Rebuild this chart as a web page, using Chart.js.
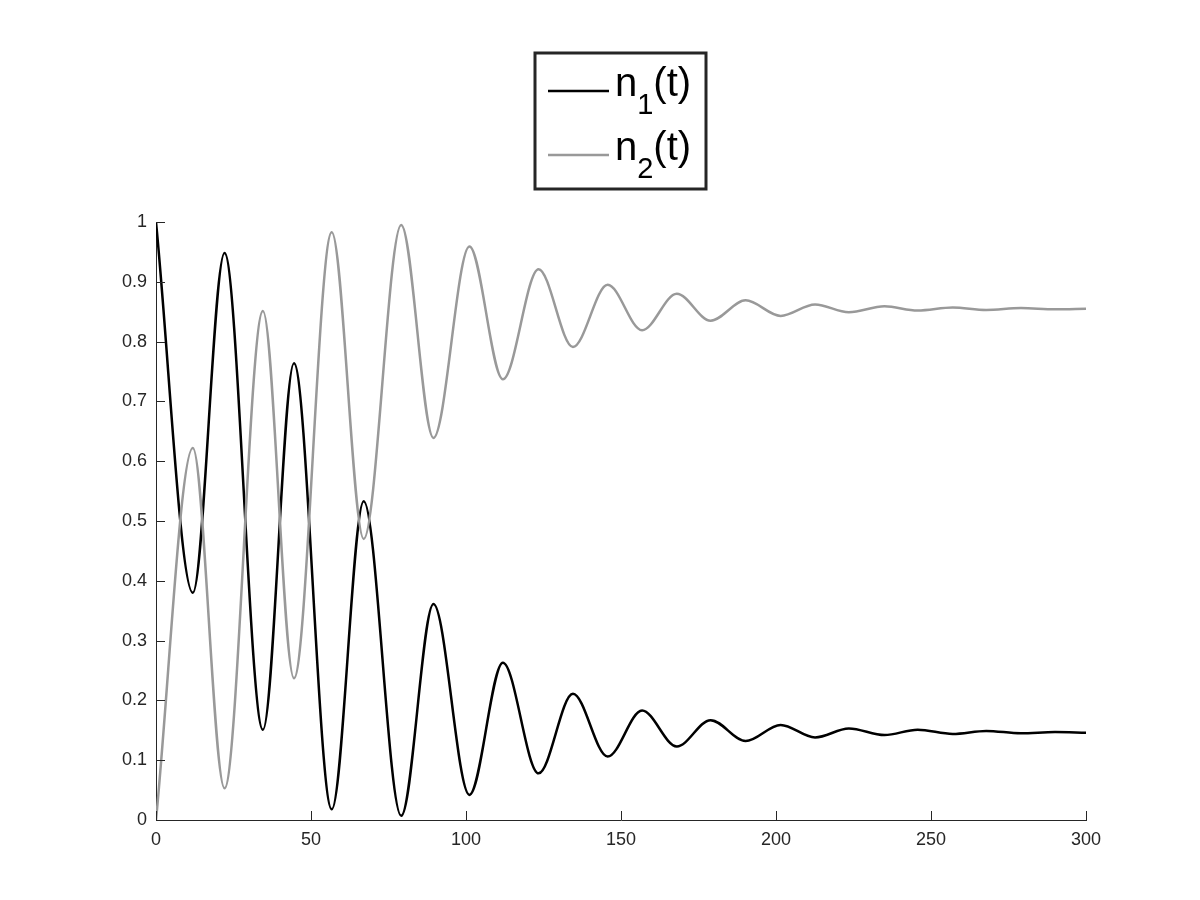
<!DOCTYPE html>
<html>
<head>
<meta charset="utf-8">
<script src="https://cdn.jsdelivr.net/npm/chart.js@4"></script>
<style>
  html, body { margin: 0; padding: 0; background: #fff; }
  canvas { display: block; }
</style>
</head>
<body>
<canvas id="popChart" width="1200" height="900"></canvas>
<script>
// turning points (t, value)
var times = [0, 11.9, 22.1, 34.5, 44.5, 56.7, 67.0, 79.1, 89.5, 101.1, 111.9, 123.4, 134.5, 145.7,
    156.8, 168, 178.9, 190.2, 201.5, 212.6, 223.5, 235, 245.7, 257, 267.8, 279, 290, 300]
var n1 = [1, 0.380, 0.948, 0.151, 0.764, 0.018, 0.533, 0.007, 0.361, 0.042, 0.263, 0.078, 0.211, 0.106,
    0.183, 0.123, 0.167, 0.132, 0.159, 0.138, 0.153, 0.142, 0.151, 0.144, 0.149, 0.145, 0.147, 0.146]
var n2 = [0, 0.622, 0.053, 0.851, 0.237, 0.983, 0.470, 0.995, 0.639, 0.959, 0.737, 0.921, 0.791, 0.895,
    0.819, 0.880, 0.835, 0.869, 0.843, 0.862, 0.849, 0.859, 0.852, 0.857, 0.853, 0.856, 0.854, 0.855]

var xTicks = [0, 50, 100, 150, 200, 250, 300]
var yTicks = [0, 0.1, 0.2, 0.3, 0.4, 0.5, 0.6, 0.7, 0.8, 0.9, 1]
var yTickLabels = ['0', '0.1', '0.2', '0.3', '0.4', '0.5', '0.6', '0.7', '0.8', '0.9', '1']

// legend text: name, subscript, tail
var seriesNames = [['n', '1', '(t)'], ['n', '2', '(t)']]

var axisColor = '#262626'
var fontFamily = '"Liberation Sans", Helvetica, Arial, sans-serif'

function points(ys) {
    return times.map(function (t, i) { return { x: t, y: ys[i] } })
}

// MATLAB style ticks pointing into the plot
var inwardTicks = {
    id: 'inwardTicks',
    afterDraw: function (chart) {
        var ctx = chart.ctx, area = chart.chartArea
        var xs = chart.scales.x, ys = chart.scales.y
        ctx.save()
        ctx.strokeStyle = axisColor
        ctx.lineWidth = 1
        ctx.beginPath()
        xTicks.forEach(function (v) {
            var px = Math.round(xs.getPixelForValue(v)) + 0.5
            ctx.moveTo(px, area.bottom)
            ctx.lineTo(px, area.bottom - 9)
        })
        yTicks.forEach(function (v) {
            var py = Math.round(ys.getPixelForValue(v)) + 0.5
            ctx.moveTo(area.left, py)
            ctx.lineTo(area.left + 9, py)
        })
        ctx.stroke()
        ctx.restore()
    }
}

// boxed legend with subscripts
var legendBox = {
    id: 'legendBox',
    afterDraw: function (chart) {
        var ctx = chart.ctx
        ctx.save()
        ctx.strokeStyle = axisColor
        ctx.lineWidth = 3
        ctx.strokeRect(535, 53, 171, 136)
        chart.data.datasets.forEach(function (ds, i) {
            var y = 91 + i * 64
            ctx.strokeStyle = ds.borderColor
            ctx.lineWidth = ds.borderWidth
            ctx.beginPath()
            ctx.moveTo(548, y)
            ctx.lineTo(609, y)
            ctx.stroke()

            var parts = seriesNames[i]
            var x = 615, base = y + 5
            ctx.fillStyle = '#000'
            ctx.textBaseline = 'alphabetic'
            ctx.textAlign = 'left'
            ctx.font = '40px ' + fontFamily
            ctx.fillText(parts[0], x, base)
            x += ctx.measureText(parts[0]).width
            ctx.font = '29px ' + fontFamily
            ctx.fillText(parts[1], x, base + 18)
            x += ctx.measureText(parts[1]).width
            ctx.font = '40px ' + fontFamily
            ctx.fillText(parts[2], x, base)
        })
        ctx.restore()
    }
}

var ctx = document.getElementById('popChart').getContext('2d')
var popChart = new Chart(ctx, {
    type: 'line',
    data: {
        datasets: [
            {
                label: 'n1(t)',
                data: points(n1),
                borderColor: '#000000',
                borderWidth: 2.5,
                order: 1
            },
            {
                label: 'n2(t)',
                data: points(n2),
                borderColor: '#999999',
                borderWidth: 2.5,
                order: 0
            }
        ]
    },
    options: {
        responsive: false,
        animation: false,
        devicePixelRatio: 1,
        layout: { padding: { left: 106, right: 114, top: 222, bottom: 40 } },
        elements: {
            point: { radius: 0 },
            line: { cubicInterpolationMode: 'monotone', fill: false }
        },
        plugins: {
            legend: { display: false },
            tooltip: { enabled: false }
        },
        scales: {
            x: {
                type: 'linear',
                min: 0,
                max: 300,
                afterBuildTicks: function (s) { s.ticks = xTicks.map(function (v) { return { value: v } }) },
                afterFit: function (s) { s.height = 40 },
                grid: { display: false, drawTicks: false },
                border: { color: axisColor, width: 1 },
                ticks: {
                    padding: 9,
                    color: axisColor,
                    maxRotation: 0,
                    autoSkip: false,
                    font: { family: fontFamily, size: 18 }
                }
            },
            y: {
                type: 'linear',
                min: 0,
                max: 1,
                afterBuildTicks: function (s) { s.ticks = yTicks.map(function (v) { return { value: v } }) },
                afterFit: function (s) { s.width = 50 },
                grid: { display: false, drawTicks: false },
                border: { color: axisColor, width: 1 },
                ticks: {
                    padding: 9,
                    color: axisColor,
                    autoSkip: false,
                    font: { family: fontFamily, size: 18 },
                    callback: function (v, i) { return yTickLabels[i] }
                }
            }
        }
    },
    plugins: [inwardTicks, legendBox]
});
</script>
</body>
</html>
